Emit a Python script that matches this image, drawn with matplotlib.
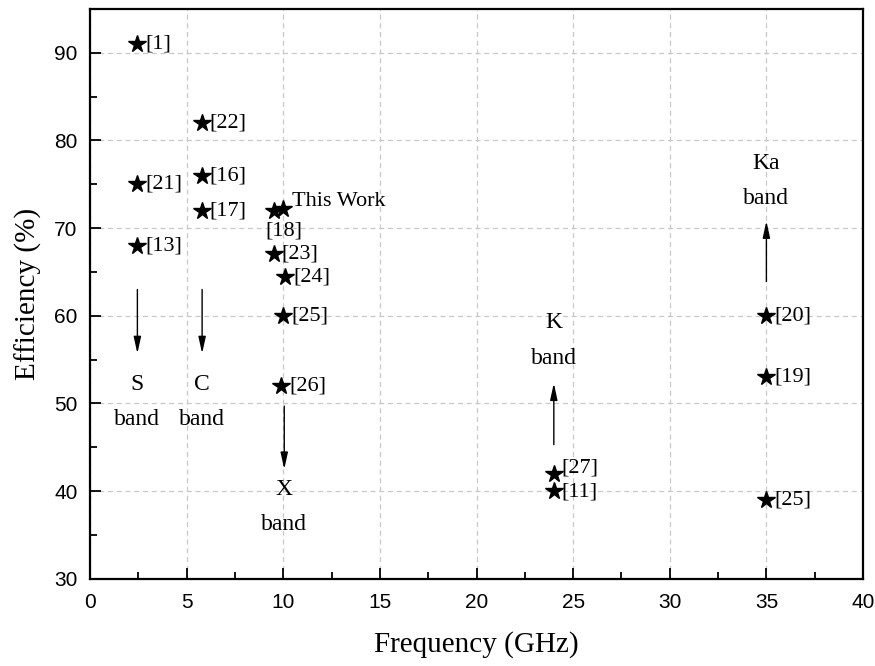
import matplotlib
matplotlib.use("Agg")
import matplotlib.pyplot as plt

## data: efficiency vs frequency from the references
freq = [2.45, 2.45, 2.45, 5.8, 5.8, 5.8, 9.5, 10.0, 9.5, 10.1, 10.0, 9.9, 24.0, 24.0, 35.0, 35.0, 35.0]
eff = [91, 75, 68, 82, 76, 72, 72, 72.2, 67, 64.4, 60, 52, 42, 40, 60, 53, 39]
refs = ["[1]", "[21]", "[13]", "[22]", "[16]", "[17]", "[18]", "This Work", "[23]",
        "[24]", "[25]", "[26]", "[27]", "[11]", "[20]", "[19]", "[25]"]

## band arrows: x, y start, y end, band name, y of name, y of "band"
band_x = [2.45, 5.8, 10.05, 24.0, 35.0]
band_y0 = [63.0, 63.0, 49.7, 45.3, 63.9]
band_y1 = [55.7, 55.7, 42.5, 52.3, 70.8]
band_name = ["S", "C", "X", "K", "Ka"]
band_name_y = [52.2, 52.2, 40.2, 59.2, 77.4]
band_word_y = [48.2, 48.2, 36.2, 55.1, 73.4]

serif = ["Liberation Serif", "DejaVu Serif"]
sans = ["Liberation Sans", "DejaVu Sans"]

fig = plt.figure(figsize=(8.75, 6.66), dpi=100)
ax = fig.add_axes([0.1029, 0.131, 0.8834, 0.8555])

ax.grid(True, which="major", color="#c8c8c8", linestyle=(0, (4, 3)), linewidth=0.9)
ax.set_axisbelow(True)

ax.plot(freq, eff, linestyle="none", marker="*", color="black", markersize=13)

for x, y, r in zip(freq, eff, refs):
    dx, dy, ha = 0.4, 0.0, "left"
    if r == "[18]":
        dx, dy, ha = 0.55, -2.3, "center"
    elif r == "This Work":
        dx, dy = 0.45, 0.8
    elif r == "[27]":
        dy = 0.65
    elif r == "[11]":
        dy = -0.1
    ax.text(x + dx, y + dy, r, fontsize=16, family=serif, ha=ha, va="center")

for x, y0, y1, nm, yn, yw in zip(band_x, band_y0, band_y1, band_name, band_name_y, band_word_y):
    ax.annotate("", xy=(x, y1), xytext=(x, y0),
                arrowprops=dict(arrowstyle="-|>,head_length=1.0,head_width=0.22",
                                color="black", lw=1.0, shrinkA=0, shrinkB=0))
    ax.text(x, yn, nm, fontsize=17, family=serif, ha="center", va="center")
    ax.text(x, yw, "band", fontsize=17, family=serif, ha="center", va="center")

ax.set_xlim(0, 40)
ax.set_ylim(30, 95)
ax.set_xticks(range(0, 41, 5))
ax.set_xticks([2.5 + 5 * i for i in range(8)], minor=True)
ax.set_yticks(range(30, 91, 10))
ax.set_yticks(range(35, 95, 10), minor=True)

ax.tick_params(which="both", direction="in", top=False, right=False, width=1.3)
ax.tick_params(which="major", length=8)
ax.tick_params(which="minor", length=5)
for lab in ax.get_xticklabels() + ax.get_yticklabels():
    lab.set_family(sans)
    lab.set_fontsize(15)
ax.tick_params(axis="x", pad=10)
ax.tick_params(axis="y", pad=9)

for s in ax.spines.values():
    s.set_linewidth(1.6)

ax.set_xlabel("Frequency (GHz)", fontsize=21, family=serif, labelpad=14)
ax.set_ylabel("Efficiency (%)", fontsize=21, family=serif, labelpad=9)

fig.savefig("out.png", dpi=100)
